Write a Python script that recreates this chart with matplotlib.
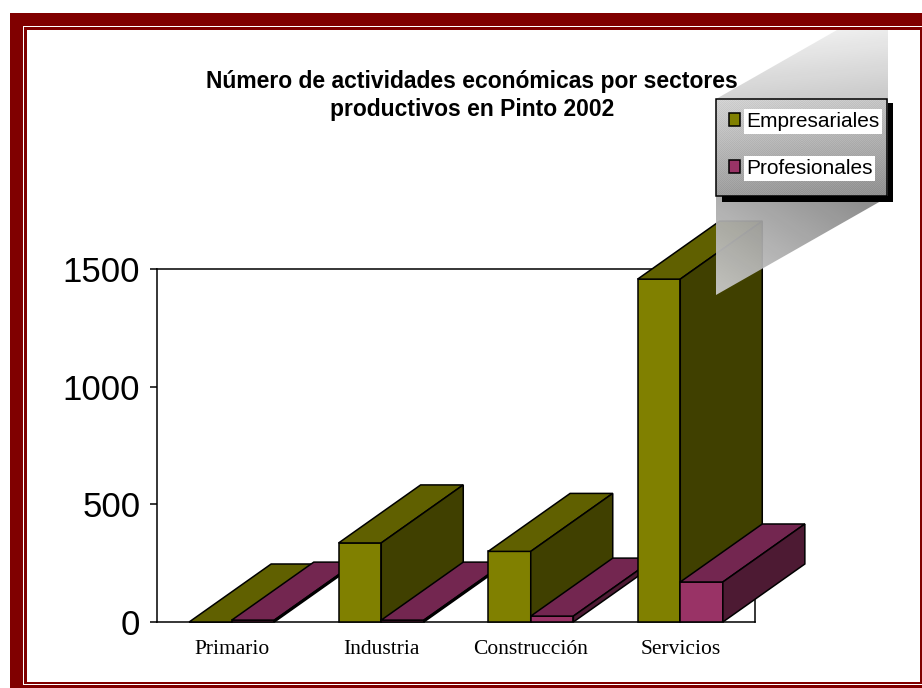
import numpy as np
import matplotlib
matplotlib.use('Agg')
import matplotlib.pyplot as plt
from matplotlib.patches import Rectangle, Polygon

categories = ['Primario', 'Industria', 'Construcción', 'Servicios']
empresariales = [0, 336, 300, 1457]
profesionales = [8, 8, 25, 170]
y_ticks = [0, 500, 1000, 1500]
series_names = ['Empresariales', 'Profesionales']

W, H = 922, 688
fig = plt.figure(figsize=(W / 100, H / 100), dpi=100, facecolor='white')


def pixel_axes(z):
    a = fig.add_axes([0, 0, 1, 1], zorder=z)
    a.set_xlim(0, W)
    a.set_ylim(H, 0)
    a.axis('off')
    return a


# frame behind everything
bg = pixel_axes(0)
for (x0, y0, x1, y1), c in [((10, 13, 922, 688), '#800000'),
                            ((23, 26, 922, 685), 'white'),
                            ((24, 27, 922, 684), '#800000'),
                            ((27, 30, 920, 682), 'white')]:
    bg.add_patch(Rectangle((x0, y0), x1 - x0, y1 - y0, fc=c, ec='none'))

ax = fig.add_axes([157 / W, (H - 622) / H, 598 / W, 353 / H], zorder=1)
ax.patch.set_alpha(0)
ax.set_xlim(0, 4)
ax.set_ylim(0, 1500)
for s in ax.spines.values():
    s.set_linewidth(1.1)

bar_w = 0.285
depth_x = 82 / 149.5
depth_y = 58 / 353 * 1500
x = np.arange(len(categories)) + 0.5


def bar3d(x0, value, z, front, top, side):
    rect = ax.bar(x0, value, bar_w, align='edge', color=front, edgecolor='black',
                  linewidth=1.1, zorder=z, clip_on=False)
    x1 = x0 + bar_w
    ax.fill([x0, x1, x1 + depth_x, x0 + depth_x],
            [value, value, value + depth_y, value + depth_y],
            fc=top, ec='black', lw=1.1, zorder=z, clip_on=False)
    ax.fill([x1, x1 + depth_x, x1 + depth_x, x1],
            [0, depth_y, value + depth_y, value],
            fc=side, ec='black', lw=1.1, zorder=z, clip_on=False)
    return rect


handles = []
for i in range(len(categories)):
    r1 = bar3d(x[i] - bar_w, empresariales[i], 3 + 2 * i, '#808000', '#606000', '#404000')
    r2 = bar3d(x[i], profesionales[i], 4 + 2 * i, '#993366', '#732650', '#4d1a33')
    handles = [r1, r2]

ax.set_xticks(x, categories, family='Liberation Serif', fontsize=15.5)
ax.tick_params(axis='x', length=0, pad=13)
ax.set_yticks(y_ticks)
ax.tick_params(axis='y', length=5, width=1.1, pad=7)
for t in ax.get_yticklabels():
    t.set_family('Liberation Sans')
    t.set_fontsize(25)

ax.set_title('Número de actividades económicas por sectores\nproductivos en Pinto 2002',
             family='Liberation Sans', fontweight='bold', fontsize=16.5, x=0.527, y=1.41,
             linespacing=1.3)

# shaded legend with its extruded gradient
ov = pixel_axes(2)
xx, yy = np.meshgrid(np.arange(716, 889), np.arange(30, 296))
upper = 245 - (yy - 30) * 0.55 - (xx - 716) * 0.06
lower = 170 + (yy - 200) * 0.37 - (xx - 716) * 0.25
gray = np.where(yy < 150, upper, lower) / 255
rgba = np.dstack([gray, gray, gray, np.full(gray.shape, 0.93)])
im = ov.imshow(rgba, extent=(716, 889, 296, 30), aspect='auto', zorder=1, interpolation='nearest')
clip = Polygon([(716, 99), (837, 30), (888, 30), (888, 197), (716, 295)],
               closed=True, transform=ov.transData)
im.set_clip_path(clip)

ov.add_patch(Rectangle((722, 103), 171, 99, fc='black', ec='none', zorder=2))
ov.add_patch(Rectangle((716, 99), 171, 97, fc='#c0c0c0', ec='none', zorder=3))
lx, ly = np.meshgrid(np.arange(716, 887), np.arange(99, 196))
shade = 205 - (ly - 99) * 0.55 - (lx - 716) * 0.08 + 10 * ((lx + ly) % 2)
shade = np.clip(shade, 0, 255) / 255
ov.imshow(shade, cmap='gray', vmin=0, vmax=1, extent=(716, 887, 196, 99), aspect='auto',
          zorder=3.5, interpolation='nearest')
ov.add_patch(Rectangle((716, 99), 171, 97, fc='none', ec='black', lw=1.1, zorder=4))
ov.set_xlim(0, W)
ov.set_ylim(H, 0)

leg = ov.legend(handles, series_names, loc='upper left', bbox_to_anchor=(716, 99),
                bbox_transform=ov.transData, frameon=False, borderaxespad=0, borderpad=0.62,
                prop={'family': 'Liberation Sans', 'size': 15}, handlelength=0.53,
                handleheight=0.55, handletextpad=0.3, labelspacing=1.35)
leg.set_zorder(5)
for t in leg.get_texts():
    t.set_bbox(dict(facecolor='white', edgecolor='none', pad=2))

fig.savefig('out.png', dpi=100)
